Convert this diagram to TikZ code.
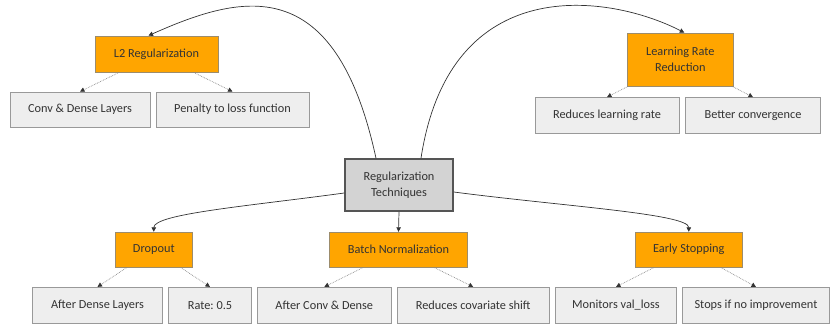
\documentclass[tikz,border=0pt]{standalone}
\usepackage{fontspec}
\setmainfont{Carlito}
\usetikzlibrary{arrows.meta}

\definecolor{txtgray}{HTML}{333333}
\definecolor{rootfill}{HTML}{D3D3D3}
\definecolor{rootedge}{HTML}{555555}
\definecolor{topicfill}{HTML}{FFA500}
\definecolor{topicedge}{HTML}{9C8C6C}
\definecolor{leaffill}{HTML}{EEEEEE}
\definecolor{leafedge}{HTML}{999999}
\definecolor{dotgray}{HTML}{888888}
\definecolor{tipgray}{HTML}{333333}

\begin{document}
\frenchspacing
\begin{tikzpicture}[x=1pt,y=-1pt,
  base/.style={rectangle, inner sep=0pt, align=center, text=txtgray,
    font=\fontsize{12.3}{16}\selectfont, line width=0.8pt},
  rootbox/.style={base, fill=rootfill, draw=rootedge, line width=1.6pt},
  topic/.style={base, fill=topicfill, draw=topicedge},
  leaf/.style={base, fill=leaffill, draw=leafedge},
  sub/.style={draw=dotgray, densely dotted, line width=0.7pt,
    -{Triangle[length=4.5pt,width=4.5pt,color=tipgray]}},
  link/.style={draw=txtgray, line width=0.7pt,
    -{Triangle[length=4.5pt,width=4.5pt,color=tipgray]}}]

\useasboundingbox (0,0) rectangle (830,325);

%% root
\node[rootbox, minimum width=108, minimum height=52] (root) at (399,185) {Regularization\\Techniques};

%% top row
\node[topic, minimum width=123, minimum height=36] (l2) at (156.5,54) {L2 Regularization};
\node[leaf, minimum width=140, minimum height=35] (conv) at (80,109.5) {Conv \& Dense Layers};
\node[leaf, minimum width=153, minimum height=35] (pen) at (232.5,109.5) {Penalty to loss function};

\node[topic, minimum width=106, minimum height=53] (lr) at (680.3,59.5) {Learning Rate\\Reduction};
\node[leaf, minimum width=144, minimum height=36] (redlr) at (607,115.5) {Reduces learning rate};
\node[leaf, minimum width=135, minimum height=36] (better) at (753,115.5) {Better convergence};

%% bottom row
\node[topic, minimum width=77, minimum height=35] (drop) at (153.8,249.7) {Dropout};
\node[topic, minimum width=137.6, minimum height=35] (bn) at (398.5,249.7) {Batch Normalization};
\node[topic, minimum width=107.7, minimum height=35] (es) at (688.8,249.7) {Early Stopping};

\node[leaf, minimum width=130, minimum height=36] (ads) at (97.5,305.3) {After Dense Layers};
\node[leaf, minimum width=83, minimum height=36] (rate) at (210,305.3) {Rate: 0.5};
\node[leaf, minimum width=134, minimum height=36] (acd) at (324.3,305.3) {After Conv \& Dense};
\node[leaf, minimum width=152, minimum height=36] (rcs) at (473.2,305.3) {Reduces covariate shift};
\node[leaf, minimum width=121.4, minimum height=36] (mon) at (616,305.3) {Monitors val\_loss};
\node[leaf, minimum width=146.6, minimum height=36] (stop) at (756,305.3) {Stops if no improvement};

%% root to topics
\draw[link] ([xshift=-23pt]root.north) .. controls +(-41,-189) and +(92,-41) .. ([xshift=-8pt]l2.north);
\draw[link] ([xshift=22pt]root.north) .. controls +(29,-189) and +(-74,-38) .. ([xshift=4pt]lr.north);
\draw[link] ([yshift=-8pt]root.west) .. controls +(-95,13) and +(0,-18) .. (drop.north);
\draw[link] ([yshift=-7pt]root.east) .. controls +(107,14) and +(0,-18) .. (es.north);
\draw[link] (root.south) -- (bn.north);

%% topics to details
\foreach \p/\c in {l2/conv, l2/pen, lr/redlr, lr/better, drop/ads, drop/rate, bn/acd, bn/rcs, es/mon, es/stop}
{
  \draw[sub] (\p) -- (\c.north);
}

\end{tikzpicture}
\end{document}
